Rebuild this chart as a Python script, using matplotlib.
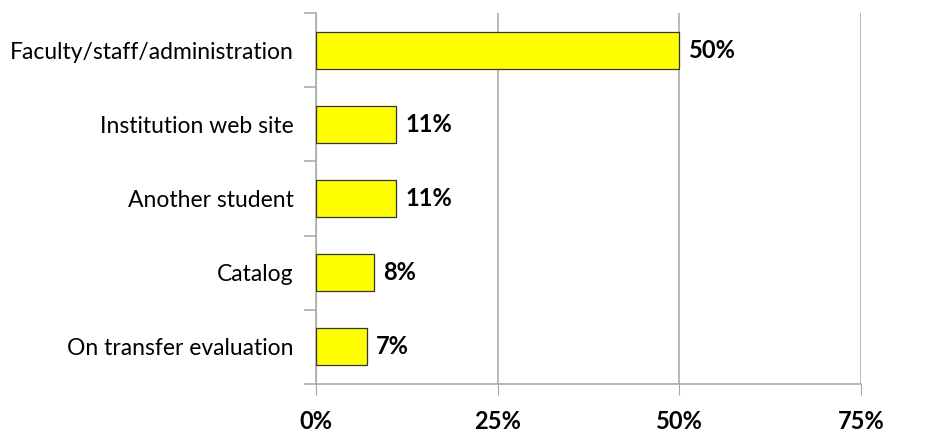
import matplotlib
matplotlib.use("Agg")
import matplotlib.pyplot as plt
from matplotlib.ticker import FixedLocator

# 응답 데이터
categories = ["Faculty/staff/administration", "Institution web site", "Another student",
              "Catalog", "On transfer evaluation"]
values = [50, 11, 11, 8, 7]
value_labels = ["50%", "11%", "11%", "8%", "7%"]
xticks = [0, 25, 50, 75]
xtick_labels = ["0%", "25%", "50%", "75%"]

plt.rcParams['font.family'] = ['Lato', 'DejaVu Sans']

fig = plt.figure(figsize=(9.25, 4.34), dpi=100)
ax = fig.add_axes([0.3416, 0.1152, 0.5892, 0.8548])

pos = list(range(len(categories)))[::-1]
ax.barh(pos, values, height=0.5, color="#FFFF00", edgecolor="#333333", linewidth=0.9, zorder=3)

for p, v, lab in zip(pos, values, value_labels):
    ax.text(v + 1.3, p, lab, va="center", ha="left", fontsize=17, fontweight="bold", zorder=4)

ax.set_xlim(0, 75)
ax.set_ylim(-0.5, len(categories) - 0.5)

ax.set_xticks(xticks)
ax.set_xticklabels(xtick_labels, fontsize=17, fontweight="bold")
ax.tick_params(axis="x", length=8, color="#a6a6a6", pad=11)
ax.xaxis.grid(True, color="#a6a6a6", linewidth=1.1, zorder=0)

ax.set_yticks(pos)
ax.set_yticklabels(categories, fontsize=16.5)
ax.tick_params(axis="y", length=0, pad=16)
ax.yaxis.set_minor_locator(FixedLocator([i - 0.5 for i in range(len(categories) + 1)]))
ax.tick_params(axis="y", which="minor", length=9, color="#a6a6a6", width=1.1)

for s in ["top", "right"]:
    ax.spines[s].set_visible(False)
for s in ["left", "bottom"]:
    ax.spines[s].set_color("#a6a6a6")
    ax.spines[s].set_linewidth(1.1)

fig.savefig("out.png", dpi=100)
